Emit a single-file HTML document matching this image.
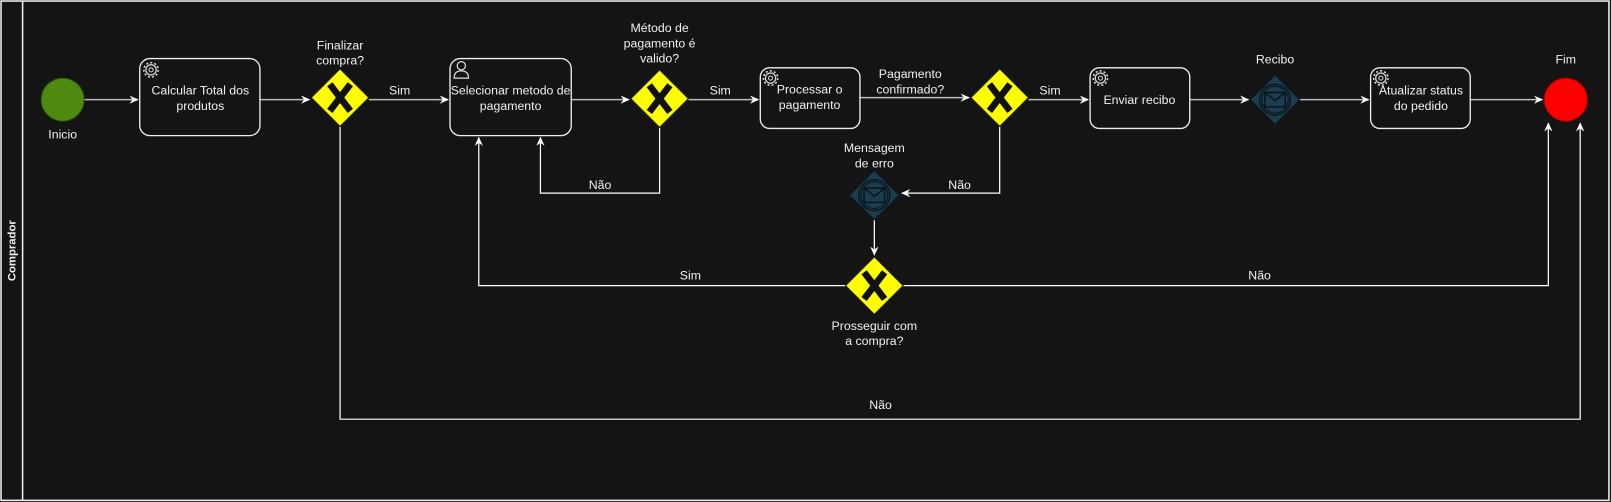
<!DOCTYPE html>
<html><head><meta charset="utf-8"><style>
html,body{margin:0;padding:0;background:#141414;}
svg{display:block;}
text{font-family:"Liberation Sans",sans-serif;font-size:12px;fill:#f0f0f0;text-anchor:middle;}
</style></head><body>
<svg width="1611" height="502" viewBox="0 0 1568 488.6" preserveAspectRatio="none" xmlns="http://www.w3.org/2000/svg">
<defs>
<marker id="a" markerWidth="10" markerHeight="10" refX="8" refY="5" orient="auto" markerUnits="userSpaceOnUse">
<path d="M0,1 L9,5 L0,9 L3,5 Z" fill="#fff"/></marker>
<g id="gw"><path d="M0,-28 L28,0 L0,28 L-28,0 Z" fill="#ffff00" stroke="#222" stroke-width="1"/>
<path d="M-10,-13 L10,13 M10,-13 L-10,13" stroke="#111" stroke-width="6.5"/></g>
<g id="msg"><path d="M0,-24 L24,0 L0,24 L-24,0 Z" fill="#1a3d4f" stroke="#0d1a22"/>
<circle r="15" fill="none" stroke="#0a141a" stroke-width="1.3"/><circle r="13" fill="none" stroke="#0a141a" stroke-width="1"/>
<rect x="-10" y="-7" width="20" height="14" fill="none" stroke="#0a141a" stroke-width="1.5"/><path d="M-10,-7 L0,1 L10,-7" fill="none" stroke="#0a141a" stroke-width="1.5"/></g>
<g id="gear"><circle r="5" fill="none" stroke="#ddd" stroke-width="1.2"/><circle r="2" fill="none" stroke="#ddd"/><circle r="7" fill="none" stroke="#ddd" stroke-width="1.5" stroke-dasharray="2 2"/></g>
</defs>
<rect x="1" y="1" width="1565" height="486" fill="#141414" stroke="#f0f0f0" stroke-width="1.5"/>
<line x1="22" y1="1" x2="22" y2="487" stroke="#f0f0f0" stroke-width="1.5"/>
<text x="15" y="244" transform="rotate(-90 15 244)" font-weight="bold" style="font-size:11px">Comprador</text>

<g stroke="#bbb" stroke-width="1.5" fill="none">
<line x1="82" y1="97" x2="134" y2="97" marker-end="url(#a)"/>
<line x1="253" y1="97" x2="301" y2="97" marker-end="url(#a)"/>
<line x1="359" y1="97" x2="436" y2="97" marker-end="url(#a)"/>
<line x1="556" y1="97" x2="612" y2="97" marker-end="url(#a)"/>
<line x1="670" y1="97" x2="738" y2="97" marker-end="url(#a)"/>
<line x1="837" y1="95" x2="943" y2="95" marker-end="url(#a)"/>
<line x1="1001" y1="97" x2="1059" y2="97" marker-end="url(#a)"/>
<line x1="1158" y1="97" x2="1215" y2="97" marker-end="url(#a)"/>
<line x1="1265" y1="97" x2="1332" y2="97" marker-end="url(#a)"/>
<line x1="1431" y1="97" x2="1501" y2="97" marker-end="url(#a)"/>
</g>
<g stroke="#fff" stroke-width="1.2" fill="none">
<polyline points="642,124 642,188 526,188 526,134" marker-end="url(#a)"/>
<polyline points="973,123 973,188 878,188" marker-end="url(#a)"/>
<polyline points="851,214 851,248" marker-end="url(#a)"/>
<polyline points="823,278 466,278 466,134" marker-end="url(#a)"/>
<polyline points="879,278 1507,278 1507,120" marker-end="url(#a)"/>
<polyline points="331,123 331,408 1538,408 1538,120" marker-end="url(#a)"/>
</g>

<circle cx="61" cy="97" r="21" fill="#4d8a0f" stroke="#2a4d08"/>
<text x="61" y="135">Inicio</text>
<circle cx="1524" cy="97" r="21" fill="#ff0000" stroke="#aa0000"/>
<text x="1524" y="62">Fim</text>

<g fill="#141414" stroke="#eee" stroke-width="1.3">
<rect x="136" y="57" width="117" height="75" rx="10"/>
<rect x="438" y="57" width="118" height="75" rx="10"/>
<rect x="740" y="66" width="97" height="59" rx="9"/>
<rect x="1061" y="66" width="97" height="59" rx="9"/>
<rect x="1334" y="66" width="97" height="59" rx="9"/>
</g>
<use href="#gear" x="147" y="68"/>
<use href="#gear" x="750" y="76"/>
<use href="#gear" x="1071" y="76"/>
<use href="#gear" x="1344" y="76"/>
<g fill="none" stroke="#ddd" stroke-width="1.2"><circle cx="449" cy="64" r="4"/><path d="M442,76 Q442,69 449,69 Q456,69 456,76 Z"/></g>

<text x="195" y="92">Calcular Total dos</text><text x="195" y="107">produtos</text>
<text x="497" y="92">Selecionar metodo de</text><text x="497" y="107">pagamento</text>
<text x="788" y="91">Processar o</text><text x="788" y="106">pagamento</text>
<text x="1109" y="101">Enviar recibo</text>
<text x="1383" y="92">Atualizar status</text><text x="1383" y="107">do pedido</text>

<use href="#gw" x="331" y="95"/>
<use href="#gw" x="642" y="96"/>
<use href="#gw" x="973" y="95"/>
<use href="#gw" x="851" y="278"/>
<use href="#msg" x="1241" y="97"/>
<use href="#msg" x="851" y="190"/>

<text x="331" y="48">Finalizar</text><text x="331" y="63">compra?</text>
<text x="642" y="31">Método de</text><text x="642" y="46">pagamento é</text><text x="642" y="61">valido?</text>
<text x="886" y="76">Pagamento</text><text x="886" y="91">confirmado?</text>
<text x="1241" y="62">Recibo</text>
<text x="851" y="148">Mensagem</text><text x="851" y="163">de erro</text>
<text x="851" y="321">Prosseguir com</text><text x="851" y="336">a compra?</text>

<text x="389" y="92">Sim</text>
<text x="701" y="92">Sim</text>
<text x="1022" y="92">Sim</text>
<text x="584" y="184">Não</text>
<text x="934" y="184">Não</text>
<text x="672" y="272">Sim</text>
<text x="1226" y="272">Não</text>
<text x="857" y="398">Não</text>
</svg>
</body></html>
